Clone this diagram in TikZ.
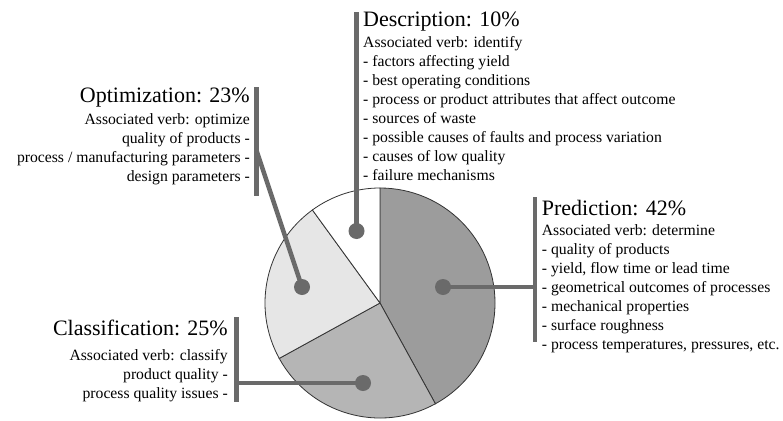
\documentclass[tikz,border=0pt]{standalone}
\usepackage{fontspec}
\setmainfont{Liberation Serif}
\definecolor{barcol}{HTML}{6A6A6A}
\definecolor{predcol}{HTML}{9C9C9C}
\definecolor{classcol}{HTML}{B5B5B5}
\definecolor{optcol}{HTML}{E6E6E6}
\tikzset{
  bar/.style={draw=barcol, line width=4.5pt},
  dot/.style={circle, fill=barcol, minimum size=16pt, inner sep=0pt},
  slice/.style={draw=black!80, line width=0.8pt},
  title/.style={inner sep=0pt, font=\fontsize{22}{24}\selectfont},
  body/.style={inner sep=0pt, font=\fontsize{15.7}{19}\selectfont}
}
\begin{document}
\begin{tikzpicture}[x=1pt, y=-1pt]
        \useasboundingbox (0, 0) rectangle (783, 420);
        % pie
        \coordinate (c) at (380, 303);
        \filldraw[slice, fill=predcol] (c) -- ++(-90:115) arc (-90:61.2:115) -- cycle;
        \filldraw[slice, fill=classcol] (c) -- ++(61.2:115) arc (61.2:151.2:115) -- cycle;
        \filldraw[slice, fill=optcol] (c) -- ++(151.2:115) arc (151.2:234:115) -- cycle;
        \filldraw[slice, fill=white] (c) -- ++(234:115) arc (234:270:115) -- cycle;
        % node
        \node[dot] (ddot) at (356.5, 231) {};
        \node[dot] (odot) at (302, 287) {};
        \node[dot] (pdot) at (443, 287) {};
        \node[dot] (cdot) at (363, 383) {};
        % lines
        \coordinate (dtop) at (356.5, 12);
        \coordinate (otop) at (256.7, 87);
        \coordinate (obot) at (256.7, 196);
        \coordinate (omid) at (256.7, 151);
        \coordinate (ptop) at (535, 197);
        \coordinate (pbot) at (535, 342);
        \coordinate (pmid) at (535, 287);
        \coordinate (ctop) at (236.7, 317);
        \coordinate (cbot) at (236.7, 402);
        \coordinate (cmid) at (236.7, 383);
        \draw[bar] (ddot.center) -- (dtop);
        \draw[bar] (otop) -- (obot);
        \draw[bar] (omid) -- (odot.center);
        \draw[bar] (ptop) -- (pbot);
        \draw[bar] (pmid) -- (pdot.center);
        \draw[bar] (ctop) -- (cbot);
        \draw[bar] (cmid) -- (cdot.center);
        % labels (lists sit on the baseline of their last line)
        \node[title, anchor=base west] (dtitle) at (363, 26.7) {Description: 10\%};
        \node[body, anchor=base west, align=left] (dlist) at (363, 180.7)
          {Associated verb: identify\\
           - factors affecting yield\\
           - best operating conditions\\
           - process or product attributes that affect outcome\\
           - sources of waste\\
           - possible causes of faults and process variation\\
           - causes of low quality\\
           - failure mechanisms};
        \node[title, anchor=base east] (otitle) at (250, 102.7) {Optimization: 23\%};
        \node[body, anchor=base east, align=right] (olist) at (250, 181.3)
          {Associated verb: optimize\\
           quality of products -\\
           process / manufacturing parameters -\\
           design parameters -};
        \node[title, anchor=base west] (ptitle) at (541.7, 215) {Prediction: 42\%};
        \node[body, anchor=base west, align=left] (plist) at (541.7, 349.5)
          {Associated verb: determine\\
           - quality of products\\
           - yield, flow time or lead time\\
           - geometrical outcomes of processes\\
           - mechanical properties\\
           - surface roughness\\
           - process temperatures, pressures, etc.};
        \node[title, anchor=base east] (ctitle) at (228, 335) {Classification: 25\%};
        \node[body, anchor=base east, align=right] (clist) at (228, 398)
          {Associated verb: classify\\
           product quality -\\
           process quality issues -};
      \end{tikzpicture}
\end{document}
